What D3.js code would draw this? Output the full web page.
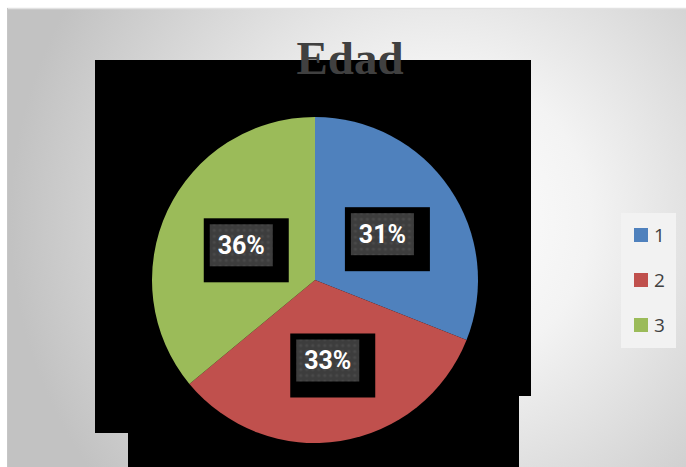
<!DOCTYPE html>
<html>
<head>
<meta charset="utf-8">
<script src="https://cdn.jsdelivr.net/npm/d3@7/dist/d3.min.js"></script>
<style>
  html, body { margin: 0; padding: 0; background: #ffffff; }
  svg { display: block; }
</style>
</head>
<body>
<svg id="chart" width="686" height="467"></svg>
<script>
// Age groups and their share of respondents
const categories = ["1", "2", "3"];
const values = [31, 33, 36];
const colors = ["#4f81bd", "#c0504d", "#9bbb59"];
const title = "Edad";

const W = 686, H = 467;
const svg = d3.select("#chart");
const defs = svg.append("defs");

// Soft radial backdrop of the chart area
const bg = defs.append("radialGradient")
  .attr("id", "bgGrad")
  .attr("gradientUnits", "userSpaceOnUse")
  .attr("cx", 440).attr("cy", 220).attr("r", 430);
bg.append("stop").attr("offset", "0%").attr("stop-color", "#ffffff");
bg.append("stop").attr("offset", "35%").attr("stop-color", "#f3f3f3");
bg.append("stop").attr("offset", "100%").attr("stop-color", "#c2c2c2");

// Dotted texture used behind the data labels
const pat = defs.append("pattern")
  .attr("id", "dots")
  .attr("patternUnits", "userSpaceOnUse")
  .attr("width", 6).attr("height", 6);
pat.append("rect").attr("width", 6).attr("height", 6).attr("fill", "#3d3d3d");
pat.append("circle").attr("cx", 3).attr("cy", 3).attr("r", 1.6).attr("fill", "#4a4a4a");

svg.append("rect")
  .attr("x", 7).attr("y", 8)
  .attr("width", W - 7).attr("height", H - 8)
  .attr("fill", "url(#bgGrad)");
svg.append("line")
  .attr("x1", 7).attr("x2", W).attr("y1", 8.5).attr("y2", 8.5)
  .attr("stroke", "#e2e2e2").attr("stroke-width", 1.5);
svg.append("line")
  .attr("x1", 7.5).attr("x2", 7.5).attr("y1", 8).attr("y2", H)
  .attr("stroke", "#c6c6c6").attr("stroke-width", 1);

// Plot area fill
const plot = svg.append("g").attr("fill", "#000000");
plot.append("rect").attr("x", 95).attr("y", 60).attr("width", 436).attr("height", 336);
plot.append("rect").attr("x", 95).attr("y", 60).attr("width", 424).attr("height", 373);
plot.append("rect").attr("x", 128).attr("y", 60).attr("width", 391).attr("height", 407);

// Title
svg.append("text")
  .attr("x", 350).attr("y", 74)
  .attr("text-anchor", "middle")
  .attr("font-family", "'Liberation Serif', 'Times New Roman', serif")
  .attr("font-weight", "bold")
  .attr("font-size", 47)
  .attr("fill", "#404040")
  .text(title);

// Pie
const cx = 315, cy = 280, R = 163;
const pie = d3.pie().sort(null).value(d => d)(values);
const arc = d3.arc().innerRadius(0).outerRadius(R);
const g = svg.append("g").attr("transform", `translate(${cx},${cy})`);

g.selectAll("path.slice")
  .data(pie)
  .join("path")
  .attr("class", "slice")
  .attr("d", arc)
  .attr("fill", (d, i) => colors[i]);

// Data labels at the slice centroids
const total = d3.sum(values);
const bw = 63, bh = 42;
const lab = g.selectAll("g.label")
  .data(pie)
  .join("g")
  .attr("class", "label")
  .attr("transform", d => {
    const [x, y] = arc.centroid(d);
    return `translate(${x},${y})`;
  });
lab.append("rect")
  .attr("x", -bw / 2 - 6).attr("y", -bh / 2 - 6)
  .attr("width", bw + 22).attr("height", bh + 22)
  .attr("fill", "#000000");
lab.append("rect")
  .attr("x", -bw / 2).attr("y", -bh / 2)
  .attr("width", bw).attr("height", bh)
  .attr("fill", "url(#dots)");
lab.append("text")
  .attr("text-anchor", "middle")
  .attr("y", 9)
  .attr("font-family", "Roboto, 'DejaVu Sans', sans-serif")
  .attr("font-weight", "bold")
  .attr("font-size", 25)
  .attr("fill", "#ffffff")
  .text(d => Math.round(d.data / total * 100) + "%");

// Legend
const legend = svg.append("g");
legend.append("rect")
  .attr("x", 621).attr("y", 213).attr("width", 55).attr("height", 135)
  .attr("fill", "#f2f2f2");
const items = legend.selectAll("g.item")
  .data(categories)
  .join("g")
  .attr("class", "item")
  .attr("transform", (d, i) => `translate(634,${228 + i * 45})`);
items.append("rect")
  .attr("width", 14).attr("height", 14)
  .attr("fill", (d, i) => colors[i]);
items.append("text")
  .attr("x", 20).attr("y", 14)
  .attr("font-family", "'Open Sans', 'DejaVu Sans', sans-serif")
  .attr("font-size", 19)
  .attr("fill", "#404040")
  .text(d => d);
</script>
</body>
</html>
